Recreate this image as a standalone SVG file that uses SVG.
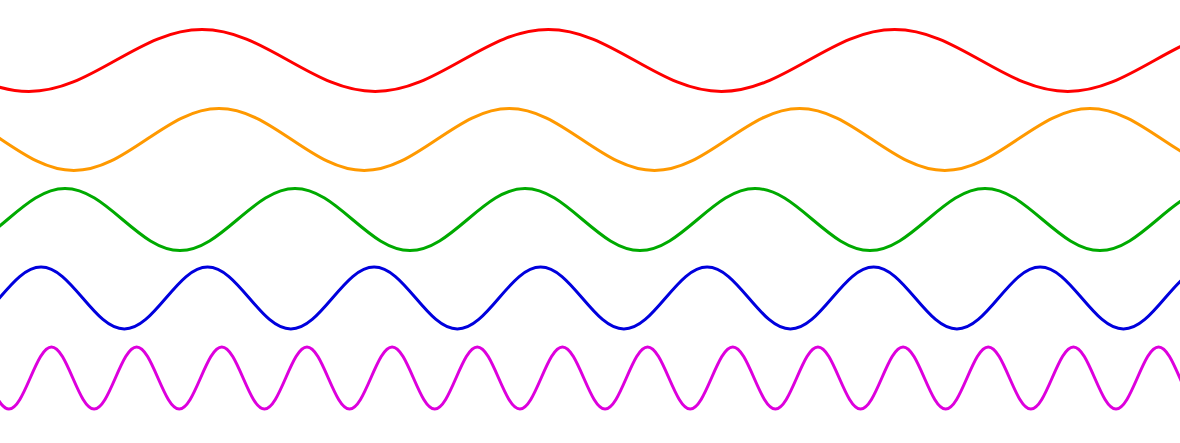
<svg xmlns="http://www.w3.org/2000/svg" width="1180" height="443" viewBox="0 0 1180 443">
<style>
.w{fill:none;stroke-width:3;stroke-linejoin:round}
</style>
<rect width="1180" height="443" fill="#ffffff"/>
<g id="waves">
<path id="red" class="w" stroke="#ff0000" d="M-230.9,60.5 c28.23,-15.88 55.24,-31 86.58,-31
s58.34,15.12 86.58,31 s55.24,31 86.58,31 s58.34,-15.12 86.58,-31 s55.24,-31 86.58,-31
s58.34,15.12 86.58,31 s55.24,31 86.58,31 s58.34,-15.12 86.58,-31 s55.24,-31 86.58,-31
s58.34,15.12 86.58,31 s55.24,31 86.58,31 s58.34,-15.12 86.58,-31 s55.24,-31 86.58,-31
s58.34,15.12 86.58,31 s55.24,31 86.58,31 s58.34,-15.12 86.58,-31 s55.24,-31 86.58,-31
s58.34,15.12 86.58,31 s55.24,31 86.58,31 s58.34,-15.12 86.58,-31 s55.24,-31 86.58,-31"/>
<path id="orange" class="w" stroke="#ff9900" d="M-143.9,139.5 c23.67,-15.88 46.31,-31 72.58,-31
s48.91,15.12 72.58,31 s46.31,31 72.58,31 s48.91,-15.12 72.58,-31 s46.31,-31 72.58,-31
s48.91,15.12 72.58,31 s46.31,31 72.58,31 s48.91,-15.12 72.58,-31 s46.31,-31 72.58,-31
s48.91,15.12 72.58,31 s46.31,31 72.58,31 s48.91,-15.12 72.58,-31 s46.31,-31 72.58,-31
s48.91,15.12 72.58,31 s46.31,31 72.58,31 s48.91,-15.12 72.58,-31 s46.31,-31 72.58,-31
s48.91,15.12 72.58,31 s46.31,31 72.58,31 s48.91,-15.12 72.58,-31 s46.31,-31 72.58,-31"/>
<path id="green" class="w" stroke="#00aa00" d="M-222.5,219.5 c18.75,-15.88 36.69,-31 57.5,-31
s38.75,15.12 57.5,31 s36.69,31 57.5,31 s38.75,-15.12 57.5,-31 s36.69,-31 57.5,-31
s38.75,15.12 57.5,31 s36.69,31 57.5,31 s38.75,-15.12 57.5,-31 s36.69,-31 57.5,-31
s38.75,15.12 57.5,31 s36.69,31 57.5,31 s38.75,-15.12 57.5,-31 s36.69,-31 57.5,-31
s38.75,15.12 57.5,31 s36.69,31 57.5,31 s38.75,-15.12 57.5,-31 s36.69,-31 57.5,-31
s38.75,15.12 57.5,31 s36.69,31 57.5,31 s38.75,-15.12 57.5,-31 s36.69,-31 57.5,-31
s38.75,15.12 57.5,31 s36.69,31 57.5,31 s38.75,-15.12 57.5,-31 s36.69,-31 57.5,-31
s38.75,15.12 57.5,31 s36.69,31 57.5,31 s38.75,-15.12 57.5,-31 s36.69,-31 57.5,-31"/>
<path id="blue" class="w" stroke="#0000dd" d="M-167.1,298 c13.57,-15.88 26.56,-31 41.63,-31
s28.05,15.12 41.63,31 s26.56,31 41.63,31 s28.05,-15.12 41.63,-31 s26.56,-31 41.63,-31
s28.05,15.12 41.63,31 s26.56,31 41.63,31 s28.05,-15.12 41.63,-31 s26.56,-31 41.63,-31
s28.05,15.12 41.63,31 s26.56,31 41.63,31 s28.05,-15.12 41.63,-31 s26.56,-31 41.63,-31
s28.05,15.12 41.63,31 s26.56,31 41.63,31 s28.05,-15.12 41.63,-31 s26.56,-31 41.63,-31
s28.05,15.12 41.63,31 s26.56,31 41.63,31 s28.05,-15.12 41.63,-31 s26.56,-31 41.63,-31
s28.05,15.12 41.63,31 s26.56,31 41.63,31 s28.05,-15.12 41.63,-31 s26.56,-31 41.63,-31
s28.05,15.12 41.63,31 s26.56,31 41.63,31 s28.05,-15.12 41.63,-31 s26.56,-31 41.63,-31
s28.05,15.12 41.63,31 s26.56,31 41.63,31 s28.05,-15.12 41.63,-31 s26.56,-31 41.63,-31
s28.05,15.12 41.63,31 s26.56,31 41.63,31 s28.05,-15.12 41.63,-31 s26.56,-31 41.63,-31"/>
<path id="magenta" class="w" stroke="#dd00dd" d="M-54.95,378 c6.94,-15.88 13.59,-31 21.29,-31
s14.35,15.12 21.29,31 s13.59,31 21.29,31 s14.35,-15.12 21.29,-31 s13.59,-31 21.29,-31
s14.35,15.12 21.29,31 s13.59,31 21.29,31 s14.35,-15.12 21.29,-31 s13.59,-31 21.29,-31
s14.35,15.12 21.29,31 s13.59,31 21.29,31 s14.35,-15.12 21.29,-31 s13.59,-31 21.29,-31
s14.35,15.12 21.29,31 s13.59,31 21.29,31 s14.35,-15.12 21.29,-31 s13.59,-31 21.29,-31
s14.35,15.12 21.29,31 s13.59,31 21.29,31 s14.35,-15.12 21.29,-31 s13.59,-31 21.29,-31
s14.35,15.12 21.29,31 s13.59,31 21.29,31 s14.35,-15.12 21.29,-31 s13.59,-31 21.29,-31
s14.35,15.12 21.29,31 s13.59,31 21.29,31 s14.35,-15.12 21.29,-31 s13.59,-31 21.29,-31
s14.35,15.12 21.29,31 s13.59,31 21.29,31 s14.35,-15.12 21.29,-31 s13.59,-31 21.29,-31
s14.35,15.12 21.29,31 s13.59,31 21.29,31 s14.35,-15.12 21.29,-31 s13.59,-31 21.29,-31
s14.35,15.12 21.29,31 s13.59,31 21.29,31 s14.35,-15.12 21.29,-31 s13.59,-31 21.29,-31
s14.35,15.12 21.29,31 s13.59,31 21.29,31 s14.35,-15.12 21.29,-31 s13.59,-31 21.29,-31
s14.35,15.12 21.29,31 s13.59,31 21.29,31 s14.35,-15.12 21.29,-31 s13.59,-31 21.29,-31
s14.35,15.12 21.29,31 s13.59,31 21.29,31 s14.35,-15.12 21.29,-31 s13.59,-31 21.29,-31
s14.35,15.12 21.29,31 s13.59,31 21.29,31 s14.35,-15.12 21.29,-31 s13.59,-31 21.29,-31
s14.35,15.12 21.29,31 s13.59,31 21.29,31 s14.35,-15.12 21.29,-31 s13.59,-31 21.29,-31"/>
</g>
</svg>
